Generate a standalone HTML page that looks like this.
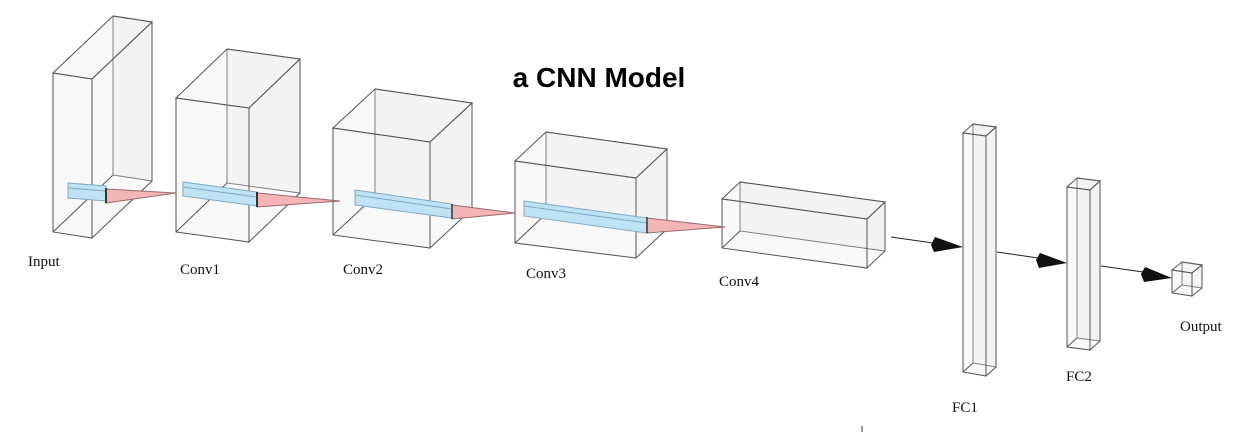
<!DOCTYPE html>
<html><head><meta charset="utf-8"><style>
html,body{margin:0;padding:0;background:#fff;width:1241px;height:432px;overflow:hidden}
svg{display:block}
.f{fill:#e8e8e8;fill-opacity:.3;stroke:#555;stroke-width:1}
.e{stroke:#555;stroke-width:1;fill:none}
.b{fill:#bfe2f4;stroke:#7fa9c0;stroke-width:1}
.p{fill:#f3b5b5;stroke:#9a6a6a;stroke-width:1}
.l{font-family:"Liberation Serif",serif;font-size:15px;fill:#111}
</style></head><body>
<svg width="1241" height="432" viewBox="0 0 1241 432">
<text x="599" y="87" text-anchor="middle" font-family="Liberation Sans, sans-serif" font-weight="bold" font-size="28" fill="#000">a CNN Model</text>

<!-- Input -->
<polygon class="f" points="113,16 152,22 152,181 113,175"/>
<polygon class="f" points="53,73 113,16 152,22 92,79"/>
<polygon class="f" points="92,79 152,22 152,181 92,238"/>
<polygon class="f" points="53,73 92,79 92,238 53,232"/>
<line class="e" x1="53" y1="232" x2="113" y2="175"/>
<!-- Conv1 -->
<polygon class="f" points="227,49 300,59 300,193 227,183"/>
<polygon class="f" points="176,98 227,49 300,59 249,108"/>
<polygon class="f" points="249,108 300,59 300,193 249,242"/>
<polygon class="f" points="176,98 249,108 249,242 176,232"/>
<line class="e" x1="176" y1="232" x2="227" y2="183"/>
<!-- Conv2 -->
<polygon class="f" points="375,89 472,103 472,209 375,196"/>
<polygon class="f" points="333,128 375,89 472,103 430,142"/>
<polygon class="f" points="430,142 472,103 472,209 430,248"/>
<polygon class="f" points="333,128 430,142 430,248 333,235"/>
<line class="e" x1="333" y1="235" x2="375" y2="196"/>
<!-- Conv3 -->
<polygon class="f" points="546,132 667,149 667,229 546,214"/>
<polygon class="f" points="515,161 546,132 667,149 636,178"/>
<polygon class="f" points="636,178 667,149 667,229 636,258"/>
<polygon class="f" points="515,161 636,178 636,258 515,243"/>
<line class="e" x1="515" y1="243" x2="546" y2="214"/>
<!-- Conv4 -->
<polygon class="f" points="740,182 885,202 885,251 740,231"/>
<polygon class="f" points="722,199 740,182 885,202 867,219"/>
<polygon class="f" points="867,219 885,202 885,251 867,268"/>
<polygon class="f" points="722,199 867,219 867,268 722,248"/>
<line class="e" x1="722" y1="248" x2="740" y2="231"/>
<!-- FC1 -->
<polygon class="f" points="973,124 996,127 996,367 973,363"/>
<polygon class="f" points="963,133 973,124 996,127 986,136"/>
<polygon class="f" points="986,136 996,127 996,367 986,376"/>
<polygon class="f" points="963,133 986,136 986,376 963,372"/>
<line class="e" x1="963" y1="372" x2="973" y2="363"/>
<!-- FC2 -->
<polygon class="f" points="1077,178 1100,181 1100,341 1077,338"/>
<polygon class="f" points="1067,187 1077,178 1100,181 1090,190"/>
<polygon class="f" points="1090,190 1100,181 1100,341 1090,350"/>
<polygon class="f" points="1067,187 1090,190 1090,350 1067,347"/>
<line class="e" x1="1067" y1="347" x2="1077" y2="338"/>
<!-- Output -->
<polygon class="f" points="1182,262 1202,265 1202,288 1182,285"/>
<polygon class="f" points="1172,270 1182,262 1202,265 1192,273"/>
<polygon class="f" points="1192,273 1202,265 1202,288 1192,296"/>
<polygon class="f" points="1172,270 1192,273 1192,296 1172,293"/>
<line class="e" x1="1172" y1="293" x2="1182" y2="285"/>

<!-- kernels -->
<polygon class="b" points="68,183 106,186 106,201 68,198"/>
<line stroke="#7fa9c0" x1="68" y1="188" x2="106" y2="191"/>
<polygon class="p" points="106,189 176,193 106,203"/>
<line stroke="#333" stroke-width="2" x1="106" y1="188" x2="106" y2="203"/>

<polygon class="b" points="183,182 257,192 257,206 183,196"/>
<line stroke="#7fa9c0" x1="183" y1="187" x2="257" y2="197"/>
<polygon class="p" points="257,193 340,201 257,207"/>
<line stroke="#333" stroke-width="2" x1="257" y1="192" x2="257" y2="207"/>

<polygon class="b" points="355,190 452,204 452,218 355,205"/>
<line stroke="#7fa9c0" x1="355" y1="195" x2="452" y2="209"/>
<polygon class="p" points="452,205 515,213 452,219"/>
<line stroke="#333" stroke-width="1.5" x1="452" y1="204" x2="452" y2="219"/>

<polygon class="b" points="524,201 647,218 647,233 524,216"/>
<line stroke="#7fa9c0" x1="524" y1="206" x2="647" y2="223"/>
<polygon class="p" points="647,218 725,227 647,233"/>
<line stroke="#333" stroke-width="1.5" x1="647" y1="217" x2="647" y2="233"/>

<!-- arrows -->
<line stroke="#222" x1="891" y1="237" x2="940" y2="244"/>
<polygon fill="#111" points="935,237 963,247 934,252 931,245"/>
<line stroke="#222" x1="997" y1="252" x2="1045" y2="259"/>
<polygon fill="#111" points="1040,253 1067,263 1039,268 1036,260"/>
<line stroke="#222" x1="1101" y1="266" x2="1150" y2="273"/>
<polygon fill="#111" points="1145,267 1172,278 1144,282 1141,274"/>

<line stroke="#333" x1="862" y1="426" x2="862" y2="432"/>

<text class="l" x="28" y="266">Input</text>
<text class="l" x="180" y="274">Conv1</text>
<text class="l" x="343" y="274">Conv2</text>
<text class="l" x="526" y="278">Conv3</text>
<text class="l" x="719" y="286">Conv4</text>
<text class="l" x="952" y="412">FC1</text>
<text class="l" x="1066" y="381">FC2</text>
<text class="l" x="1180" y="331">Output</text>
</svg>
</body></html>
